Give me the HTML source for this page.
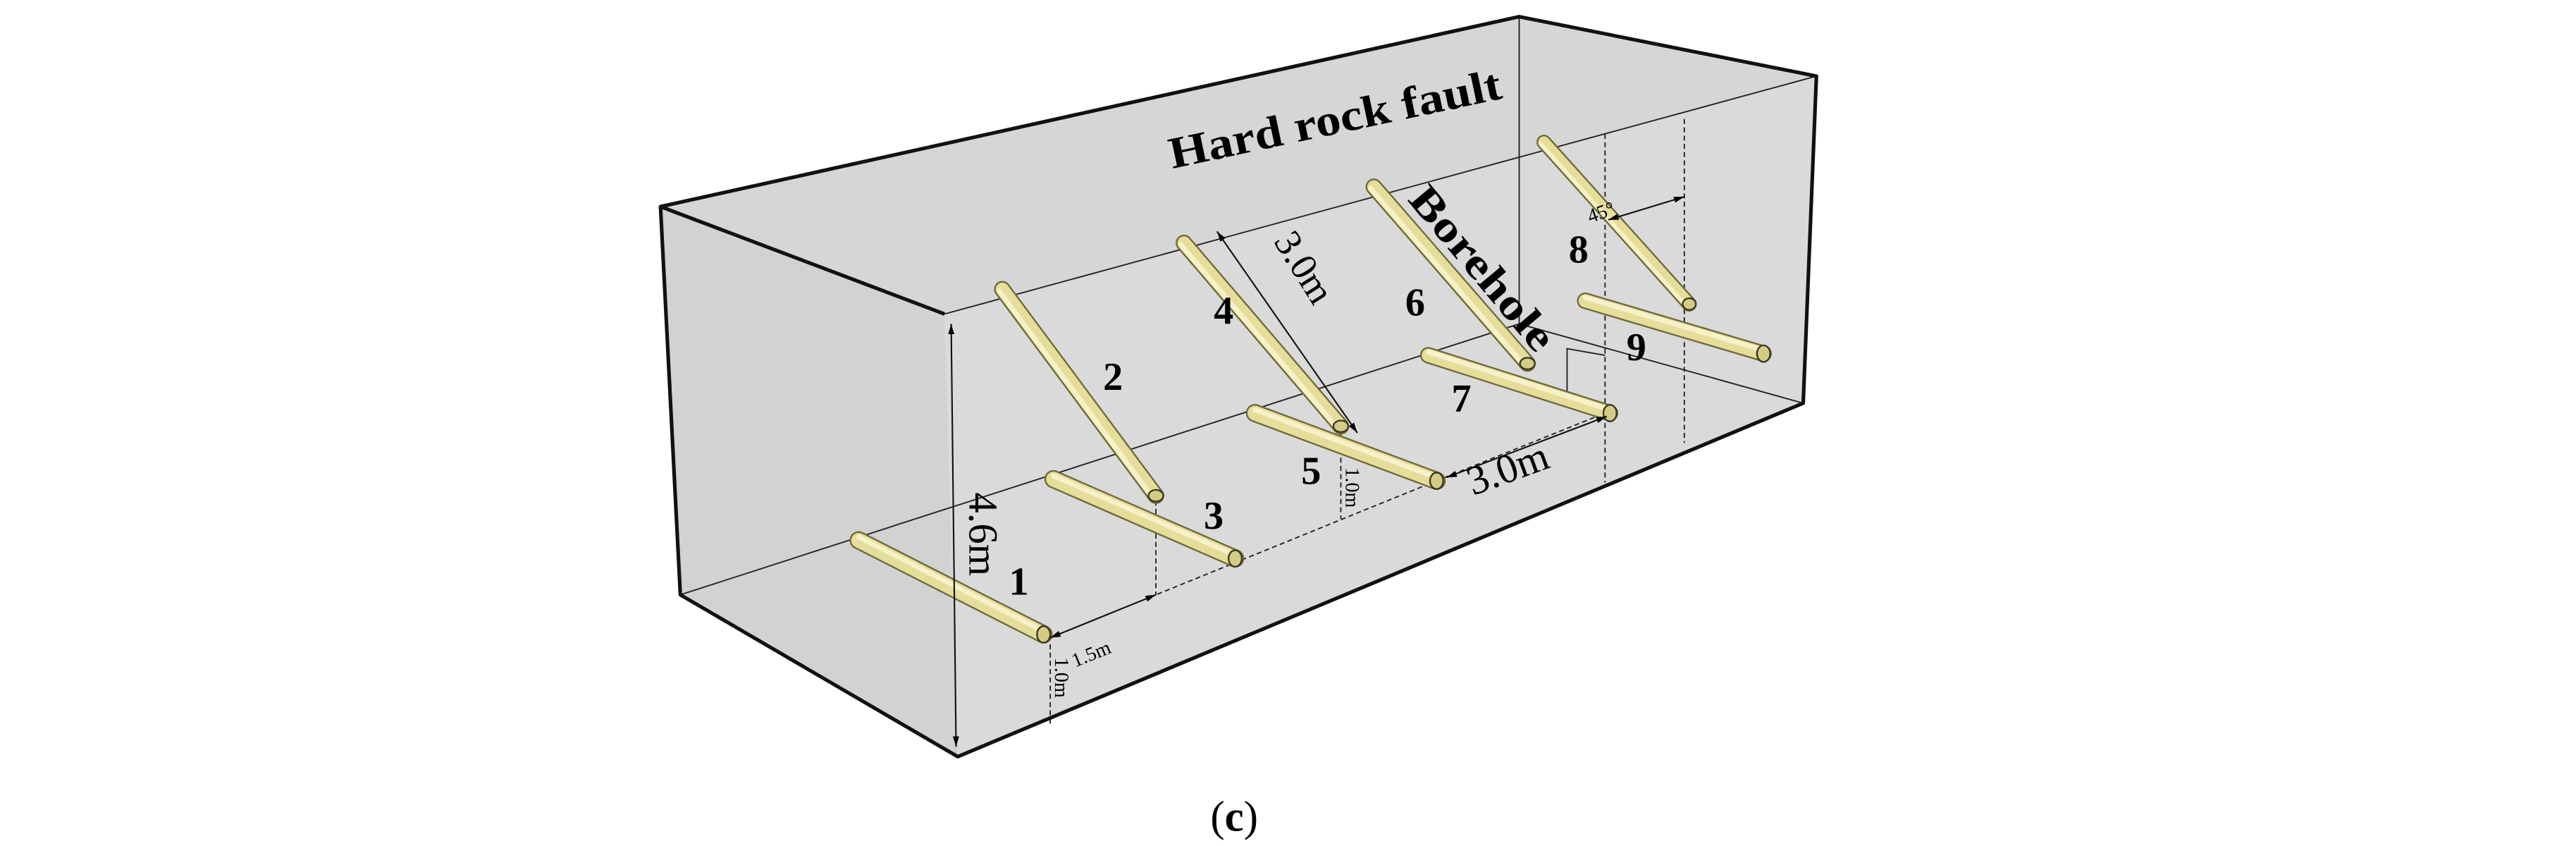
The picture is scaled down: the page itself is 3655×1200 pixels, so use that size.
<!DOCTYPE html>
<html><head><meta charset="utf-8"><style>
html,body{margin:0;padding:0;background:#fff;}
svg{display:block;}
svg text{font-family:"Liberation Serif","Times New Roman",serif;}
</style></head><body>
<svg width="3655" height="1200" viewBox="0 0 1560 512" xmlns="http://www.w3.org/2000/svg" font-family="Liberation Serif, serif">
<defs>
<marker id="ar" viewBox="0 0 10 10" refX="10" refY="5" markerWidth="7" markerHeight="7" orient="auto-start-reverse"><path d="M0,2 L10,5 L0,8 z" fill="#000"/></marker>
</defs>
<polygon points="400,125 920,10 1100,46 572,190" fill="#d6d6d6"/>
<polygon points="400,125 572,190 580,458 412,360" fill="#d2d2d2"/>
<polygon points="572,190 1100,46 1092,244 580,458" fill="#dadada"/>
<g stroke="#222" stroke-width="0.8" fill="none">
<line x1="412" y1="360" x2="920" y2="196"/>
<line x1="920" y1="196" x2="1092" y2="244"/>
<line x1="920" y1="10" x2="920" y2="196"/>
<line x1="572" y1="190" x2="1100" y2="46"/>
</g>
<g stroke="#222" stroke-width="0.8" fill="none" stroke-dasharray="3,2">
<line x1="636" y1="386" x2="870" y2="291"/>
<line x1="700" y1="303" x2="700" y2="360"/>
<line x1="812" y1="262" x2="812" y2="314"/>
<line x1="636" y1="390" x2="636" y2="440"/>
<line x1="972" y1="81" x2="972" y2="292"/>
<line x1="1020" y1="72" x2="1020" y2="268"/>
<line x1="870" y1="291" x2="972" y2="250"/>
</g>
<polyline points="949,240 949,211 972,215" fill="none" stroke="#222" stroke-width="0.8"/>
<g stroke="#111" stroke-width="2.2" fill="none" stroke-linejoin="round">
<polyline points="572,190 400,125 920,10 1100,46 1092,244 580,458 412,360 400,125"/>
</g>
<g stroke-linecap="round">
<line x1="520" y1="327" x2="632" y2="384" stroke="#6e6a3a" stroke-width="11"/>
<line x1="520" y1="327" x2="632" y2="384" stroke="#e6dd9a" stroke-width="9"/>
<line x1="520" y1="325" x2="632" y2="382" stroke="#f6f1c8" stroke-width="3"/>
<line x1="607" y1="175" x2="700" y2="300" stroke="#6e6a3a" stroke-width="10"/>
<line x1="607" y1="175" x2="700" y2="300" stroke="#e6dd9a" stroke-width="8"/>
<line x1="605" y1="176" x2="698" y2="301" stroke="#f6f1c8" stroke-width="3"/>
<line x1="638" y1="290" x2="748" y2="338" stroke="#6e6a3a" stroke-width="11"/>
<line x1="638" y1="290" x2="748" y2="338" stroke="#e6dd9a" stroke-width="9"/>
<line x1="638" y1="288" x2="748" y2="336" stroke="#f6f1c8" stroke-width="3"/>
<line x1="760" y1="250" x2="870" y2="291" stroke="#6e6a3a" stroke-width="11"/>
<line x1="760" y1="250" x2="870" y2="291" stroke="#e6dd9a" stroke-width="9"/>
<line x1="760" y1="248" x2="870" y2="289" stroke="#f6f1c8" stroke-width="3"/>
<line x1="717" y1="147" x2="812" y2="258" stroke="#6e6a3a" stroke-width="10"/>
<line x1="717" y1="147" x2="812" y2="258" stroke="#e6dd9a" stroke-width="8"/>
<line x1="715" y1="148" x2="810" y2="259" stroke="#f6f1c8" stroke-width="3"/>
<line x1="832" y1="113" x2="925" y2="220" stroke="#6e6a3a" stroke-width="10"/>
<line x1="832" y1="113" x2="925" y2="220" stroke="#e6dd9a" stroke-width="8"/>
<line x1="830" y1="114" x2="923" y2="221" stroke="#f6f1c8" stroke-width="3"/>
<line x1="865" y1="215" x2="975" y2="250" stroke="#6e6a3a" stroke-width="10"/>
<line x1="865" y1="215" x2="975" y2="250" stroke="#e6dd9a" stroke-width="8"/>
<line x1="865" y1="213" x2="975" y2="248" stroke="#f6f1c8" stroke-width="3"/>
<line x1="935" y1="86" x2="1023" y2="184" stroke="#6e6a3a" stroke-width="9"/>
<line x1="935" y1="86" x2="1023" y2="184" stroke="#e6dd9a" stroke-width="7"/>
<line x1="933" y1="87" x2="1021" y2="185" stroke="#f6f1c8" stroke-width="2.5"/>
<line x1="960" y1="182" x2="1068" y2="214" stroke="#6e6a3a" stroke-width="10"/>
<line x1="960" y1="182" x2="1068" y2="214" stroke="#e6dd9a" stroke-width="8"/>
<line x1="960" y1="180" x2="1068" y2="212" stroke="#f6f1c8" stroke-width="3"/>
</g>
<g fill="#d4cb85" stroke="#3a3820" stroke-width="1">
<ellipse cx="632" cy="384" rx="4" ry="5"/>
<ellipse cx="700" cy="300" rx="4.5" ry="3.5"/>
<ellipse cx="748" cy="338" rx="4" ry="5"/>
<ellipse cx="870" cy="291" rx="4" ry="5"/>
<ellipse cx="812" cy="258" rx="4.5" ry="3.5"/>
<ellipse cx="925" cy="220" rx="4.5" ry="3.5"/>
<ellipse cx="975" cy="250" rx="4" ry="5"/>
<ellipse cx="1023" cy="184" rx="4" ry="3.5"/>
<ellipse cx="1068" cy="214" rx="4" ry="5"/>
</g>
<g stroke="#111" stroke-width="0.9" fill="none">
<line x1="576" y1="196" x2="579" y2="452" marker-start="url(#ar)" marker-end="url(#ar)"/>
<line x1="737" y1="140" x2="822" y2="262" marker-start="url(#ar)" marker-end="url(#ar)"/>
<line x1="876" y1="289" x2="973" y2="252" marker-start="url(#ar)" marker-end="url(#ar)"/>
<line x1="636" y1="386" x2="700" y2="360" marker-start="url(#ar)" marker-end="url(#ar)"/>
<line x1="974" y1="133" x2="1020" y2="119" marker-start="url(#ar)" marker-end="url(#ar)"/>
</g>
<g font-weight="bold" font-size="24" fill="#000">
<text x="611" y="360">1</text>
<text x="668" y="236">2</text>
<text x="729" y="320">3</text>
<text x="735" y="196">4</text>
<text x="788" y="293">5</text>
<text x="851" y="191">6</text>
<text x="879" y="249">7</text>
<text x="950" y="159">8</text>
<text x="985" y="218">9</text>
<text transform="translate(710,102) rotate(-12)" font-size="27" textLength="205" lengthAdjust="spacingAndGlyphs">Hard rock fault</text>
<text transform="translate(852,121) rotate(50)" font-size="26" textLength="122" lengthAdjust="spacingAndGlyphs">Borehole</text>
</g>
<g fill="#000">
<text transform="translate(771,146) rotate(58)" font-size="23">3.0m</text>
<text transform="translate(892,300) rotate(-20)" font-size="25">3.0m</text>
<text transform="translate(587,298) rotate(90)" font-size="25">4.6m</text>
<text transform="translate(651,404) rotate(-22)" font-size="12">1.5m</text>
<text transform="translate(639,398) rotate(90)" font-size="12">1.0m</text>
<text transform="translate(815,283) rotate(90)" font-size="12">1.0m</text>
<text transform="translate(963,135) rotate(-20)" font-size="12">45°</text>
<text x="733" y="503" font-size="26">(<tspan font-weight="bold">c</tspan>)</text>
</g>
</svg>
</body></html>
